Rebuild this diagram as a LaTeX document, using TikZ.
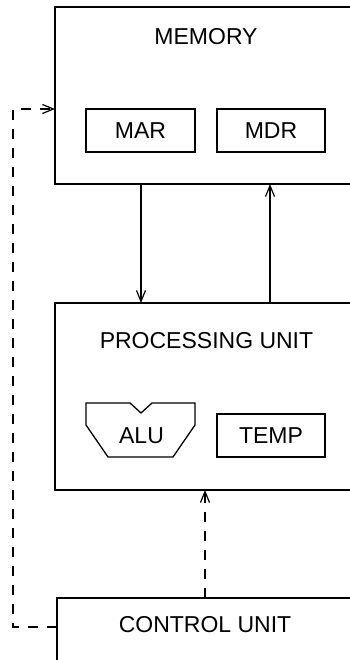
\documentclass[tikz,border=0pt]{standalone}
\usepackage{fontspec}
\setmainfont{Liberation Sans}
\usetikzlibrary{arrows.meta}
\begin{document}
\begin{tikzpicture}[x=1pt,y=-1pt,line width=1.3pt,
  box/.style={draw,inner sep=0pt,outer sep=0pt,anchor=north west},
  lbl/.style={inner sep=0pt,font=\fontsize{23}{27}\selectfont},
  arr/.style={-{Straight Barb[length=11pt,width=9pt,line width=1.2pt]}},
  dsh/.style={dash pattern=on 10pt off 9pt}]
\useasboundingbox (0,0) rectangle (350,660);
\clip (0,0) rectangle (350,660);
% memory
\node[box,minimum width=310pt,minimum height=177pt] (mem) at (55,7) {};
\node[lbl] (memt) at (206,36.5) {MEMORY};
\node[box,minimum width=109pt,minimum height=43pt] (mar) at (86,109) {};
\node[lbl] at (mar.center) (mart) {MAR};
\node[box,minimum width=108pt,minimum height=43pt] (mdr) at (217,109) {};
\node[lbl] at (mdr.center) (mdrt) {MDR};
% processing unit
\node[box,minimum width=310pt,minimum height=187pt] (pu) at (55,303) {};
\node[lbl] (put) at (206.5,340.5) {PROCESSING UNIT};
\draw (86,403) -- (130,403) -- (141,413) -- (152,403) -- (195,403) -- (195,425)
  -- (173,457) -- (108,457) -- (86,425) -- cycle;
\node[lbl] (alu) at (141.5,435.5) {ALU};
\node[box,minimum width=108pt,minimum height=43pt] (temp) at (217,414) {};
\node[lbl] at (temp.center) (tempt) {TEMP};
% control unit
\node[box,minimum width=310pt,minimum height=120pt] (cu) at (57,598) {};
\node[lbl] (cut) at (205,625) {CONTROL UNIT};
% connectors
\draw[arr] ([xshift=86pt]mem.south west) -- ([xshift=86pt]pu.north west);
\draw[arr] ([xshift=215pt]pu.north west) -- ([xshift=215pt]mem.south west);
\draw[arr,dsh] ([xshift=148pt]cu.north west) -- ([xshift=150pt]pu.south west);
\coordinate (cuw) at (57,627);
\coordinate (c1) at (13,627);
\coordinate (c2) at (13,109);
\coordinate (memin) at (55,109);
\draw[arr,dsh] (cuw) -- (c1) -- (c2) -- (memin);
\end{tikzpicture}
\end{document}
